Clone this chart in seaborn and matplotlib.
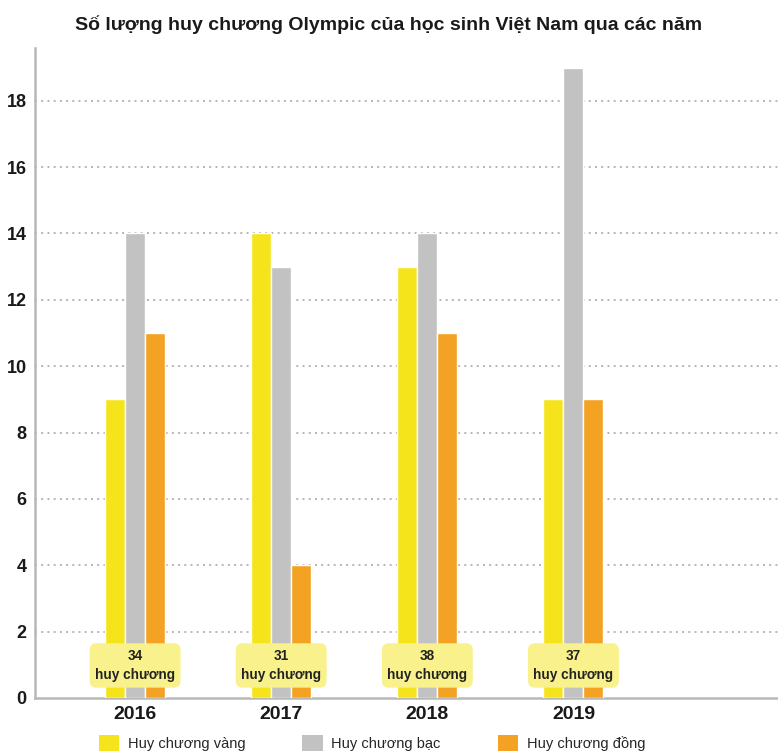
import matplotlib
matplotlib.use("Agg")
import matplotlib.pyplot as plt
import seaborn as sns
import pandas as pd
from matplotlib.patches import Patch

years = ["2016", "2017", "2018", "2019"]
medal_types = ["Huy chương vàng", "Huy chương bạc", "Huy chương đồng"]
gold = [9, 14, 13, 9]
silver = [14, 13, 14, 19]
bronze = [11, 4, 11, 9]
totals = [34, 31, 38, 37]
yticks = [0, 2, 4, 6, 8, 10, 12, 14, 16, 18]

colors = ["#f5e41c", "#c2c2c2", "#f3a224"]
box_color = "#f8f18c"

sns.set_theme(style="white")
plt.rcParams["font.family"] = ["Liberation Sans", "DejaVu Sans"]

df = pd.DataFrame({
    "year": years * 3,
    "medal": [m for m in medal_types for _ in years],
    "count": gold + silver + bronze,
})

fig = plt.figure(figsize=(7.78, 7.51), dpi=100)
ax = fig.add_axes([0.045, 0.0706, 0.955, 0.866])

sns.barplot(data=df, x="year", y="count", hue="medal", order=years,
            hue_order=medal_types, palette=colors, width=0.41,
            saturation=1, gap=0, ax=ax, legend=False, zorder=3)

ax.set_ylim(0, 19.6)
ax.set_xlim(-0.685, 4.40)
ax.set_yticks(yticks)
ax.set_yticklabels([str(v) for v in yticks], fontsize=13, fontweight="bold", color="#1a1a1a")
ax.set_xticklabels(years, fontsize=14, fontweight="bold", color="#1a1a1a")
ax.set_xlabel("")
ax.set_ylabel("")
ax.tick_params(axis="both", length=0, pad=6)

for v in yticks[1:]:
    ax.axhline(v, color="#b5b5b5", linestyle=(0, (1, 2.2)), linewidth=1.4, zorder=1)

for side in ["top", "right"]:
    ax.spines[side].set_visible(False)
for side in ["left", "bottom"]:
    ax.spines[side].set_color("#b8b8b8")
    ax.spines[side].set_linewidth(1.8)

for i, t in enumerate(totals):
    ax.text(i, 0.98, f"{t}\nhuy chương", ha="center", va="center", fontsize=9.8,
            fontweight="bold", color="#222222", linespacing=1.5, zorder=5,
            bbox=dict(boxstyle="round,pad=0.4,rounding_size=0.5", fc=box_color, ec="none"))

fig.text(0.5, 0.967, "Số lượng huy chương Olympic của học sinh Việt Nam qua các năm",
         ha="center", va="center", fontsize=14, fontweight="bold", color="#1a1a1a")

handles = [Patch(facecolor=c, edgecolor="none") for c in colors]
fig.legend(handles, medal_types, loc="center", bbox_to_anchor=(0.478, 0.011), ncol=3,
           frameon=False, fontsize=10.5, handlelength=1.4, handleheight=1.3,
           columnspacing=3.9, handletextpad=0.6, borderpad=0)

fig.savefig("out.png", dpi=100)
